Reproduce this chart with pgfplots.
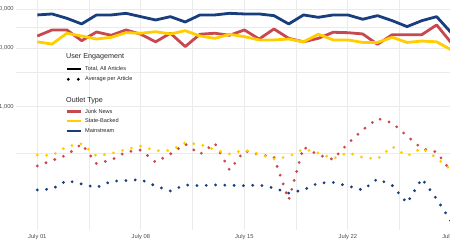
\documentclass[border=0pt]{standalone}
\usepackage{fontspec}
\setmainfont{Liberation Sans}
\usepackage{pgfplots}
\pgfplotsset{compat=1.18}

\definecolor{junk}{RGB}{200,72,80}
\definecolor{state}{RGB}{255,205,0}
\definecolor{mainstr}{RGB}{25,62,125}
\definecolor{gridc}{RGB}{235,235,235}
\definecolor{ticktxt}{RGB}{77,77,77}

% days since July 01; solid = total engagement, dotted = average per article
\pgfplotstableread{
day junkT stateT mainT junkA stateA mainA
0  16200 12900 37200  96.5 149 37.5
1  20600 11800 38700 120   146 39.0
2  20600 18100 32600 149   208 54.4
3  13500 16200 26100 230   232 47.5
4  19000 14400 37200 106   143 41.3
5  16700 15400 37200 122   158 52.8
6  20600 18500 39700 168   186 54.4
7  17400 18100 34800 181   212 56.4
8  12900 19200 30500 112   176 43.9
9  18100 17600 34800 155   178 36.0
10 10700 20000 28200 230   240 45.7
11 17400 16200 37200 153   226 44.3
12 18100 14800 37200 237   184 45.7
13 16700 17400 39700  82.4 155 45.1
14 20600 15800 38700 175   181 44.4
15 14400 13900 38700 152   155 45.7
16 21400 13900 36200 137   127 40.5
17 14800 14400 26100  25.3 140 33.2
18 12900 12900 37200 204   189 37.5
19 14800 17400 33900 149   161 49.4
20 18800 13900 37200 125   129 50.4
21 18500 13900 37200 235   164 43.9
22 17600 12600 31400 399   135 37.5
23 11700 12600 36200 628   127 58.0
24 17100 15400 29700 527   208 44.8
25 17100 12600 23500 315   143 22.4
26 17100 13300 29700 192   196 58.7
27 25100 12900 34800 168   132 26.3
28 12300  9350 18300  76.2  82.4 10.6
}\data

\begin{document}
\begin{tikzpicture}
\useasboundingbox (0,0) rectangle (450bp,250bp);
\begin{scope}
\clip (0,0) rectangle (450bp,250bp);
\begin{axis}[
    at={(16bp,20bp)}, anchor=south west,
    scale only axis,
    width=444.3bp, height=230bp,
    xmin=-1.44, xmax=28.6,
    ymode=log, ymin=7.74, ymax=67100,
    xtick={0,7,14,21,28},
    xticklabels={July 01,July 08,July 15,July 22,July 29},
    minor xtick={3.5,10.5,17.5,24.5},
    ytick={1000,10000,46540},
    yticklabels={{1,000},{10,000},{50,000}},
    minor ytick={159,3820,22900},
    grid=both,
    major grid style={gridc, line width=0.8bp},
    minor grid style={gridc, line width=0.5bp},
    axis line style={draw=none},
    tick style={draw=none},
    ticklabel style={font=\fontsize{5.8}{7}\selectfont, text=ticktxt},
    xticklabel style={yshift=-1bp},
    yticklabel style={xshift=1.2bp},
    every axis plot/.append style={line join=round},
]
\addplot[junk, line width=2.8bp] table[x=day, y=junkT] {\data};
\addplot[state, line width=2.8bp] table[x=day, y=stateT] {\data};
\addplot[mainstr, line width=2.8bp] table[x=day, y=mainT] {\data};
\addplot[junk, line width=3.1bp, line cap=round, dash pattern=on 0bp off 9.3bp] table[x=day, y=junkA] {\data};
\addplot[state, line width=3.1bp, line cap=round, dash pattern=on 0bp off 9.3bp] table[x=day, y=stateA] {\data};
\addplot[mainstr, line width=3.1bp, line cap=round, dash pattern=on 0bp off 9.3bp] table[x=day, y=mainA] {\data};
\end{axis}
\end{scope}

% legend
\begin{scope}[every node/.style={anchor=west, inner sep=0pt, text=black!85}]
\node at (66bp,193.3bp) {\fontsize{7.2}{8}\selectfont User Engagement};
\draw[black, line width=2.8bp] (66.7bp,181bp) -- (80.7bp,181bp);
\node at (85bp,181bp) {\fontsize{5.6}{6.5}\selectfont Total, All Articles};
\draw[black, line width=3.1bp, line cap=round, dash pattern=on 0bp off 10bp] (68.3bp,170.7bp) -- (79bp,170.7bp);
\node at (85bp,170.7bp) {\fontsize{5.6}{6.5}\selectfont Average per Article};
\node at (66bp,149.3bp) {\fontsize{7.2}{8}\selectfont Outlet Type};
\draw[junk, line width=2.8bp] (66.7bp,138.3bp) -- (80.7bp,138.3bp);
\node at (85bp,138.3bp) {\fontsize{5.6}{6.5}\selectfont Junk News};
\draw[state, line width=2.8bp] (66.7bp,129bp) -- (80.7bp,129bp);
\node at (85bp,129bp) {\fontsize{5.6}{6.5}\selectfont State-Backed};
\draw[mainstr, line width=2.8bp] (66.7bp,119bp) -- (80.7bp,119bp);
\node at (85bp,119bp) {\fontsize{5.6}{6.5}\selectfont Mainstream};
\end{scope}
\end{tikzpicture}
\end{document}
